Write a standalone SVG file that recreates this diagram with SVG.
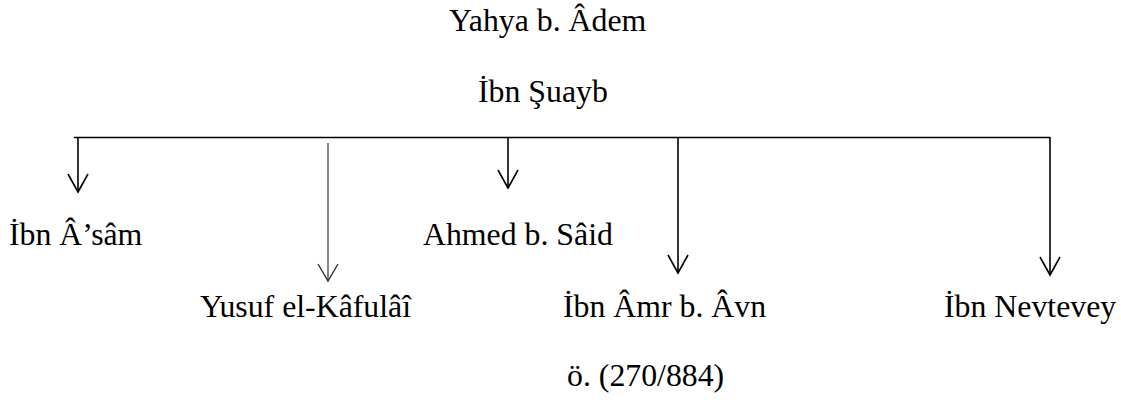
<svg xmlns="http://www.w3.org/2000/svg" width="1121" height="400" viewBox="0 0 1121 400">
<style>
text{font-family:"Liberation Serif","Times New Roman",serif;font-size:31.8px;fill:#000}
.c{stroke:#000;stroke-width:1.6;fill:none}
.g{stroke:#555;stroke-width:1.4;fill:none}
</style>
<defs>
<marker id="v" markerUnits="userSpaceOnUse" markerWidth="24" markerHeight="24" refX="0" refY="0" orient="auto" overflow="visible">
<path d="M-18,-10 L0,0 L-18,10" fill="none" stroke="#000" stroke-width="1.6"/>
</marker>
<marker id="vg" markerUnits="userSpaceOnUse" markerWidth="24" markerHeight="24" refX="0" refY="0" orient="auto" overflow="visible">
<path d="M-17,-10 L0,0 L-17,10" fill="none" stroke="#333" stroke-width="1.4"/>
</marker>
</defs>
<rect width="1121" height="400" fill="#fff"/>
<g id="connectors">
<line class="c" x1="74" y1="137.5" x2="1050" y2="137.5"/>
<line class="c" x1="78" y1="137" x2="78" y2="192" marker-end="url(#v)"/>
<line class="g" x1="328" y1="143" x2="328" y2="281" marker-end="url(#vg)"/>
<line class="c" x1="508" y1="137" x2="508" y2="188" marker-end="url(#v)"/>
<line class="c" x1="678" y1="137" x2="678" y2="273" marker-end="url(#v)"/>
<line class="c" x1="1050" y1="137" x2="1050" y2="275" marker-end="url(#v)"/>
</g>
<g id="n-yahya"><text x="449" y="31">Yahya b. Âdem</text></g>
<g id="n-suayb"><text x="478" y="102">İbn Şuayb</text></g>
<g id="n-asam"><text x="9" y="245">İbn Â’sâm</text></g>
<g id="n-ahmed"><text x="423" y="245">Ahmed b. Sâid</text></g>
<g id="n-yusuf"><text x="200" y="317">Yusuf el-Kâfulâî</text></g>
<g id="n-amr"><text x="563" y="317">İbn Âmr b. Âvn</text><text x="567" y="386">ö. (270/884)</text></g>
<g id="n-nevtevey"><text x="944" y="317">İbn Nevtevey</text></g>
</svg>
